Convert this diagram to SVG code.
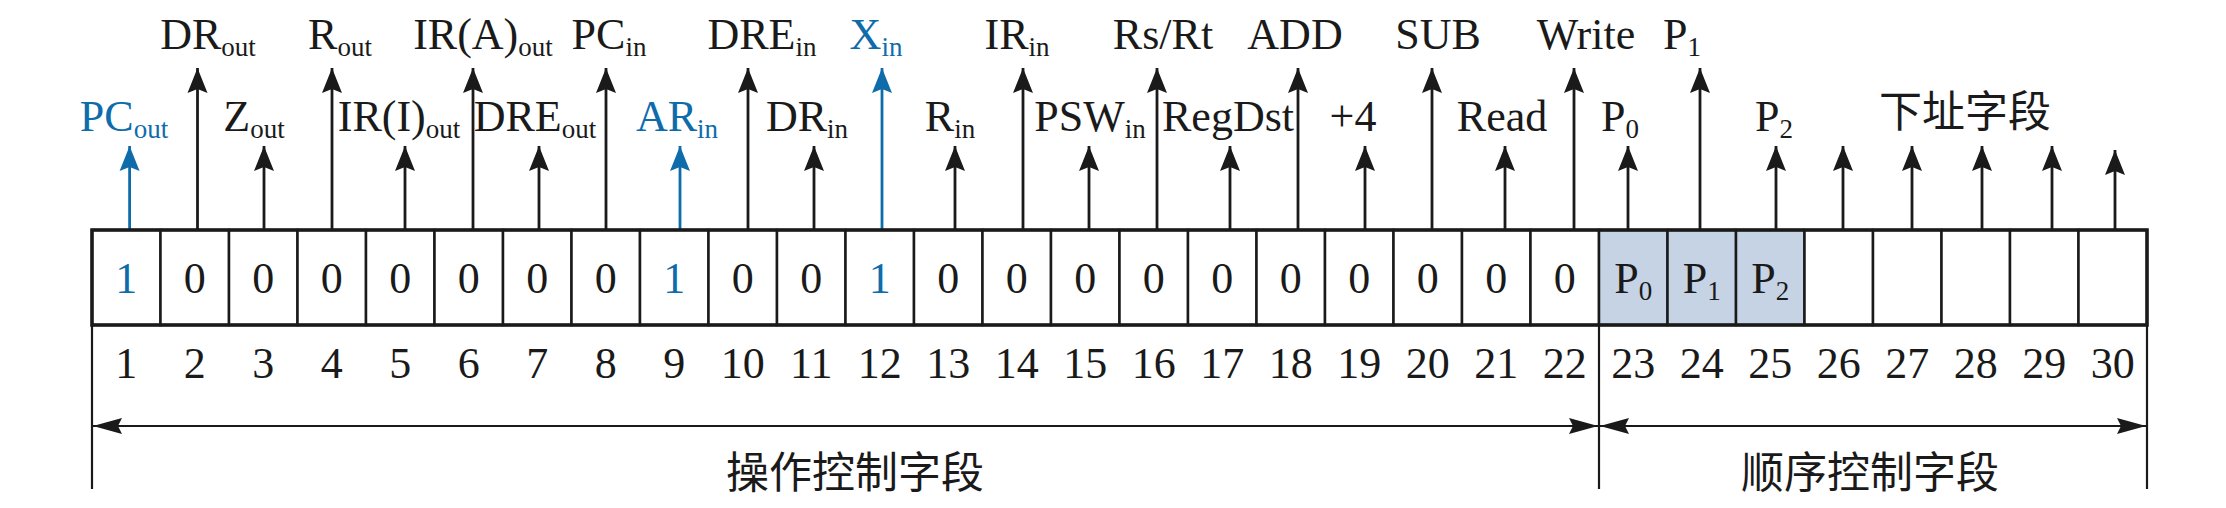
<svg xmlns="http://www.w3.org/2000/svg" width="2226" height="508" viewBox="0 0 2226 508">
<style>
text{font-family:"Liberation Serif","Times New Roman",serif;fill:#1a1a1a}
.lbl{font-size:44px;text-anchor:middle}
.sub{font-size:27px}
.blue{fill:#0f6cab}
.cjk{font-family:"Noto Sans CJK SC",sans-serif;font-size:43px;text-anchor:middle;fill:#1a1a1a}
.cell{fill:#fff;stroke:#1a1a1a;stroke-width:2.5}
.cell.sh{fill:#c5d3e4}
.up{stroke:#1a1a1a;stroke-width:2.8;fill:none;marker-end:url(#ah)}
.upb{stroke:#0f6cab;stroke-width:2.8;fill:none;marker-end:url(#ahb)}
.ln{stroke:#1a1a1a;stroke-width:2.2;fill:none}
.br{stroke:#1a1a1a;stroke-width:2.2;fill:none;marker-start:url(#bh);marker-end:url(#bh)}
</style>
<defs>
<marker id="ah" viewBox="-27 -11 29 22" refX="0" refY="0" markerWidth="29" markerHeight="22" markerUnits="userSpaceOnUse" orient="auto"><path d="M0,0 L-25,-10 L-21,0 L-25,10 Z" fill="#1a1a1a"/></marker>
<marker id="ahb" viewBox="-27 -11 29 22" refX="0" refY="0" markerWidth="29" markerHeight="22" markerUnits="userSpaceOnUse" orient="auto"><path d="M0,0 L-25,-10 L-21,0 L-25,10 Z" fill="#0f6cab"/></marker>
<marker id="bh" viewBox="-31 -9 33 18" refX="0" refY="0" markerWidth="33" markerHeight="18" markerUnits="userSpaceOnUse" orient="auto-start-reverse"><path d="M0,0 L-29,-8 L-25,0 L-29,8 Z" fill="#1a1a1a"/></marker>
</defs>

<g id="connectors">
<line class="upb" x1="129.6" y1="230" x2="129.6" y2="146"/>
<line class="up" x1="197.5" y1="230" x2="197.5" y2="68"/>
<line class="up" x1="264" y1="230" x2="264" y2="146"/>
<line class="up" x1="332" y1="230" x2="332" y2="68"/>
<line class="up" x1="405" y1="230" x2="405" y2="146"/>
<line class="up" x1="473" y1="230" x2="473" y2="68"/>
<line class="up" x1="539" y1="230" x2="539" y2="146"/>
<line class="up" x1="606" y1="230" x2="606" y2="68"/>
<line class="upb" x1="680" y1="230" x2="680" y2="146"/>
<line class="up" x1="748" y1="230" x2="748" y2="68"/>
<line class="up" x1="814" y1="230" x2="814" y2="146"/>
<line class="upb" x1="882" y1="230" x2="882" y2="68"/>
<line class="up" x1="955" y1="230" x2="955" y2="146"/>
<line class="up" x1="1023" y1="230" x2="1023" y2="68"/>
<line class="up" x1="1089" y1="230" x2="1089" y2="146"/>
<line class="up" x1="1157" y1="230" x2="1157" y2="68"/>
<line class="up" x1="1230" y1="230" x2="1230" y2="146"/>
<line class="up" x1="1298" y1="230" x2="1298" y2="68"/>
<line class="up" x1="1365" y1="230" x2="1365" y2="146"/>
<line class="up" x1="1432" y1="230" x2="1432" y2="68"/>
<line class="up" x1="1505" y1="230" x2="1505" y2="146"/>
<line class="up" x1="1574" y1="230" x2="1574" y2="68"/>
<line class="up" x1="1628" y1="230" x2="1628" y2="146"/>
<line class="up" x1="1700" y1="230" x2="1700" y2="68"/>
<line class="up" x1="1776" y1="230" x2="1776" y2="146"/>
<line class="up" x1="1843" y1="230" x2="1843" y2="146"/>
<line class="up" x1="1912" y1="230" x2="1912" y2="146"/>
<line class="up" x1="1982" y1="230" x2="1982" y2="146"/>
<line class="up" x1="2052" y1="230" x2="2052" y2="146"/>
<line class="up" x1="2115" y1="230" x2="2115" y2="150"/>
<line class="ln" x1="92" y1="325" x2="92" y2="489"/>
<line class="ln" x1="1599" y1="325" x2="1599" y2="489"/>
<line class="ln" x1="2147" y1="325" x2="2147" y2="489"/>
<line class="br" x1="93" y1="426" x2="1598" y2="426"/>
<line class="br" x1="1600" y1="426" x2="2146" y2="426"/>
</g>

<g id="signal-labels">
<text class="lbl blue" x="124" y="131">PC<tspan class="sub blue" dy="7">out</tspan></text>
<text class="lbl" x="208" y="49">DR<tspan class="sub" dy="7">out</tspan></text>
<text class="lbl" x="254" y="131">Z<tspan class="sub" dy="7">out</tspan></text>
<text class="lbl" x="340" y="49">R<tspan class="sub" dy="7">out</tspan></text>
<text class="lbl" x="399" y="131">IR(I)<tspan class="sub" dy="7">out</tspan></text>
<text class="lbl" x="483" y="49">IR(A)<tspan class="sub" dy="7">out</tspan></text>
<text class="lbl" x="535" y="131">DRE<tspan class="sub" dy="7">out</tspan></text>
<text class="lbl" x="609" y="49">PC<tspan class="sub" dy="7">in</tspan></text>
<text class="lbl blue" x="677" y="131">AR<tspan class="sub blue" dy="7">in</tspan></text>
<text class="lbl" x="762" y="49">DRE<tspan class="sub" dy="7">in</tspan></text>
<text class="lbl" x="807" y="131">DR<tspan class="sub" dy="7">in</tspan></text>
<text class="lbl blue" x="876" y="49">X<tspan class="sub blue" dy="7">in</tspan></text>
<text class="lbl" x="950" y="131">R<tspan class="sub" dy="7">in</tspan></text>
<text class="lbl" x="1017" y="49">IR<tspan class="sub" dy="7">in</tspan></text>
<text class="lbl" x="1090" y="131">PSW<tspan class="sub" dy="7">in</tspan></text>
<text class="lbl" x="1163" y="49">Rs/Rt</text>
<text class="lbl" x="1228" y="131">RegDst</text>
<text class="lbl" x="1295" y="49">ADD</text>
<text class="lbl" x="1353" y="131">+4</text>
<text class="lbl" x="1438" y="49">SUB</text>
<text class="lbl" x="1502" y="131">Read</text>
<text class="lbl" x="1586" y="49">Write</text>
<text class="lbl" x="1620" y="131">P<tspan class="sub" dy="7">0</tspan></text>
<text class="lbl" x="1682" y="49">P<tspan class="sub" dy="7">1</tspan></text>
<text class="lbl" x="1774" y="131">P<tspan class="sub" dy="7">2</tspan></text>
<text class="cjk" x="1965" y="127">下址字段</text>
</g>

<g id="register">
<g id="cell-1"><rect class="cell" x="92" y="230" width="68.5" height="95"/><text class="lbl blue" x="126.25" y="293">1</text><text class="lbl" x="126.25" y="378">1</text></g>
<g id="cell-2"><rect class="cell" x="160.5" y="230" width="68.5" height="95"/><text class="lbl" x="194.75" y="293">0</text><text class="lbl" x="194.75" y="378">2</text></g>
<g id="cell-3"><rect class="cell" x="229" y="230" width="68.5" height="95"/><text class="lbl" x="263.25" y="293">0</text><text class="lbl" x="263.25" y="378">3</text></g>
<g id="cell-4"><rect class="cell" x="297.5" y="230" width="68.5" height="95"/><text class="lbl" x="331.75" y="293">0</text><text class="lbl" x="331.75" y="378">4</text></g>
<g id="cell-5"><rect class="cell" x="366" y="230" width="68.5" height="95"/><text class="lbl" x="400.25" y="293">0</text><text class="lbl" x="400.25" y="378">5</text></g>
<g id="cell-6"><rect class="cell" x="434.5" y="230" width="68.5" height="95"/><text class="lbl" x="468.75" y="293">0</text><text class="lbl" x="468.75" y="378">6</text></g>
<g id="cell-7"><rect class="cell" x="503" y="230" width="68.5" height="95"/><text class="lbl" x="537.25" y="293">0</text><text class="lbl" x="537.25" y="378">7</text></g>
<g id="cell-8"><rect class="cell" x="571.5" y="230" width="68.5" height="95"/><text class="lbl" x="605.75" y="293">0</text><text class="lbl" x="605.75" y="378">8</text></g>
<g id="cell-9"><rect class="cell" x="640" y="230" width="68.5" height="95"/><text class="lbl blue" x="674.25" y="293">1</text><text class="lbl" x="674.25" y="378">9</text></g>
<g id="cell-10"><rect class="cell" x="708.5" y="230" width="68.5" height="95"/><text class="lbl" x="742.75" y="293">0</text><text class="lbl" x="742.75" y="378">10</text></g>
<g id="cell-11"><rect class="cell" x="777" y="230" width="68.5" height="95"/><text class="lbl" x="811.25" y="293">0</text><text class="lbl" x="811.25" y="378">11</text></g>
<g id="cell-12"><rect class="cell" x="845.5" y="230" width="68.5" height="95"/><text class="lbl blue" x="879.75" y="293">1</text><text class="lbl" x="879.75" y="378">12</text></g>
<g id="cell-13"><rect class="cell" x="914" y="230" width="68.5" height="95"/><text class="lbl" x="948.25" y="293">0</text><text class="lbl" x="948.25" y="378">13</text></g>
<g id="cell-14"><rect class="cell" x="982.5" y="230" width="68.5" height="95"/><text class="lbl" x="1016.75" y="293">0</text><text class="lbl" x="1016.75" y="378">14</text></g>
<g id="cell-15"><rect class="cell" x="1051" y="230" width="68.5" height="95"/><text class="lbl" x="1085.25" y="293">0</text><text class="lbl" x="1085.25" y="378">15</text></g>
<g id="cell-16"><rect class="cell" x="1119.5" y="230" width="68.5" height="95"/><text class="lbl" x="1153.75" y="293">0</text><text class="lbl" x="1153.75" y="378">16</text></g>
<g id="cell-17"><rect class="cell" x="1188" y="230" width="68.5" height="95"/><text class="lbl" x="1222.25" y="293">0</text><text class="lbl" x="1222.25" y="378">17</text></g>
<g id="cell-18"><rect class="cell" x="1256.5" y="230" width="68.5" height="95"/><text class="lbl" x="1290.75" y="293">0</text><text class="lbl" x="1290.75" y="378">18</text></g>
<g id="cell-19"><rect class="cell" x="1325" y="230" width="68.5" height="95"/><text class="lbl" x="1359.25" y="293">0</text><text class="lbl" x="1359.25" y="378">19</text></g>
<g id="cell-20"><rect class="cell" x="1393.5" y="230" width="68.5" height="95"/><text class="lbl" x="1427.75" y="293">0</text><text class="lbl" x="1427.75" y="378">20</text></g>
<g id="cell-21"><rect class="cell" x="1462" y="230" width="68.5" height="95"/><text class="lbl" x="1496.25" y="293">0</text><text class="lbl" x="1496.25" y="378">21</text></g>
<g id="cell-22"><rect class="cell" x="1530.5" y="230" width="68.5" height="95"/><text class="lbl" x="1564.75" y="293">0</text><text class="lbl" x="1564.75" y="378">22</text></g>
<g id="cell-23"><rect class="cell sh" x="1599" y="230" width="68.5" height="95"/><text class="lbl" x="1633.25" y="293">P<tspan class="sub" dy="7">0</tspan></text><text class="lbl" x="1633.25" y="378">23</text></g>
<g id="cell-24"><rect class="cell sh" x="1667.5" y="230" width="68.5" height="95"/><text class="lbl" x="1701.75" y="293">P<tspan class="sub" dy="7">1</tspan></text><text class="lbl" x="1701.75" y="378">24</text></g>
<g id="cell-25"><rect class="cell sh" x="1736" y="230" width="68.5" height="95"/><text class="lbl" x="1770.25" y="293">P<tspan class="sub" dy="7">2</tspan></text><text class="lbl" x="1770.25" y="378">25</text></g>
<g id="cell-26"><rect class="cell" x="1804.5" y="230" width="68.5" height="95"/><text class="lbl" x="1838.75" y="378">26</text></g>
<g id="cell-27"><rect class="cell" x="1873" y="230" width="68.5" height="95"/><text class="lbl" x="1907.25" y="378">27</text></g>
<g id="cell-28"><rect class="cell" x="1941.5" y="230" width="68.5" height="95"/><text class="lbl" x="1975.75" y="378">28</text></g>
<g id="cell-29"><rect class="cell" x="2010" y="230" width="68.5" height="95"/><text class="lbl" x="2044.25" y="378">29</text></g>
<g id="cell-30"><rect class="cell" x="2078.5" y="230" width="68.5" height="95"/><text class="lbl" x="2112.75" y="378">30</text></g>
<rect x="92" y="230" width="2055" height="95" fill="none" stroke="#1a1a1a" stroke-width="3.5"/>
</g>

<g id="field-labels">
<text class="cjk" x="855" y="488">操作控制字段</text>
<text class="cjk" x="1870" y="488">顺序控制字段</text>
</g>
</svg>
